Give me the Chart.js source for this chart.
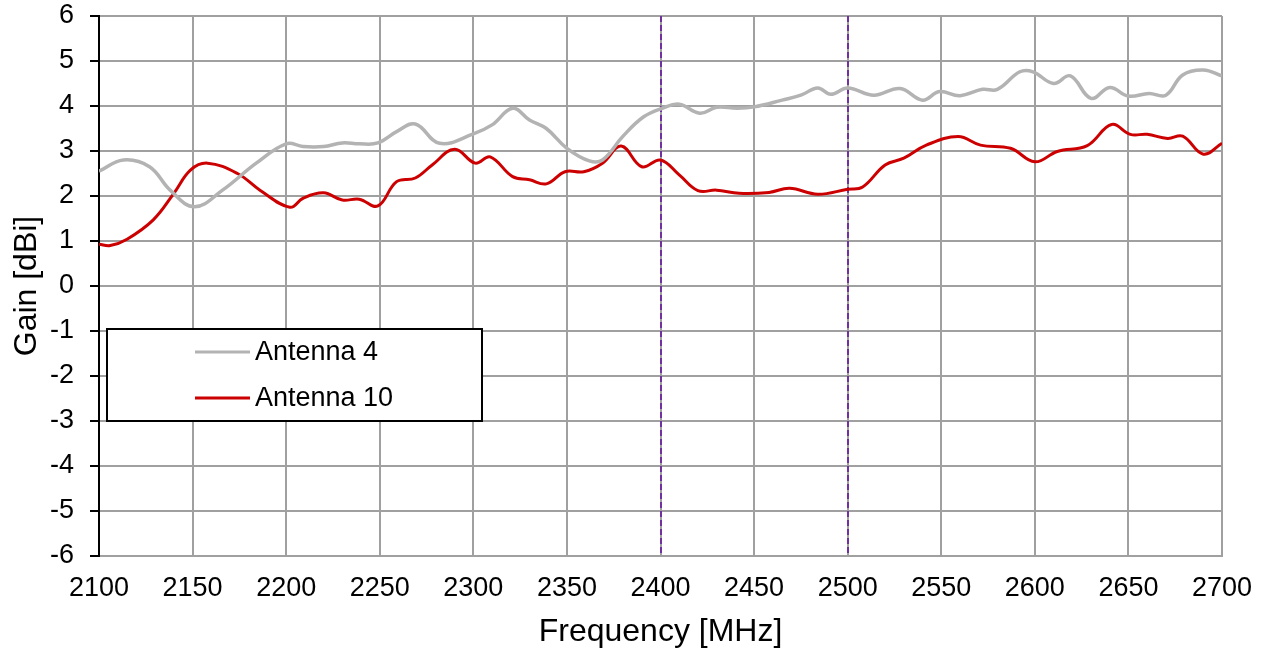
<!DOCTYPE html>
<html>
<head>
<meta charset="utf-8">
<title>Gain vs Frequency</title>
<script src="https://cdn.jsdelivr.net/npm/chart.js@4/dist/chart.umd.min.js"></script>
<style>
  html, body { margin: 0; padding: 0; background: #fff; }
</style>
</head>
<body>
<canvas id="grafico" width="1263" height="656"></canvas>
<script>
// Datos
const seriesNames = ['Antenna 4', 'Antenna 10'];
const freqA4 = [2100, 2113, 2127, 2138, 2151, 2166, 2184, 2200, 2209, 2220, 2230, 2239, 2249, 2259, 2269, 2282, 2300, 2310, 2321, 2330, 2339, 2350, 2362, 2369, 2380, 2391, 2401, 2410, 2421, 2430, 2441, 2450, 2465, 2475, 2484, 2491, 2500, 2514, 2528, 2540, 2549, 2560, 2572, 2580, 2592, 2599, 2610, 2619, 2630, 2640, 2650, 2661, 2670, 2679, 2690, 2700];
const gainA4 = [2.55, 2.8, 2.65, 2.13, 1.76, 2.13, 2.73, 3.16, 3.1, 3.1, 3.18, 3.16, 3.18, 3.43, 3.6, 3.17, 3.38, 3.58, 3.95, 3.69, 3.5, 3.06, 2.78, 2.8, 3.33, 3.76, 3.95, 4.04, 3.84, 3.97, 3.95, 3.98, 4.13, 4.24, 4.4, 4.26, 4.4, 4.24, 4.39, 4.13, 4.32, 4.23, 4.37, 4.37, 4.76, 4.76, 4.5, 4.67, 4.17, 4.41, 4.22, 4.28, 4.24, 4.69, 4.8, 4.67];
const freqA10 = [2100, 2106, 2115, 2129, 2140, 2149, 2158, 2174, 2186, 2202, 2209, 2220, 2230, 2239, 2249, 2259, 2269, 2278, 2290, 2301, 2309, 2321, 2330, 2339, 2349, 2359, 2369, 2379, 2390, 2400, 2410, 2420, 2430, 2442, 2458, 2469, 2484, 2500, 2508, 2520, 2530, 2542, 2559, 2571, 2587, 2600, 2612, 2628, 2641, 2651, 2660, 2671, 2679, 2690, 2700];
const gainA10 = [0.93, 0.9, 1.04, 1.47, 2.06, 2.58, 2.73, 2.5, 2.13, 1.75, 1.95, 2.07, 1.91, 1.93, 1.78, 2.32, 2.4, 2.69, 3.04, 2.73, 2.87, 2.43, 2.36, 2.27, 2.54, 2.54, 2.73, 3.11, 2.65, 2.8, 2.47, 2.12, 2.13, 2.06, 2.08, 2.17, 2.04, 2.15, 2.2, 2.69, 2.84, 3.13, 3.32, 3.13, 3.06, 2.76, 2.99, 3.12, 3.59, 3.37, 3.37, 3.28, 3.33, 2.93, 3.17];
const bandEdges = [2400, 2500]; // lineas verticales punteadas

const fuente = "'Liberation Sans', Arial, sans-serif";

function toPoints(xs, ys) {
    return xs.map((x, i) => ({ x: x, y: ys[i] }));
}

// Lineas verticales de la banda
const bandLines = {
    id: 'bandLines',
    beforeDatasetsDraw(chart) {
        const { ctx, chartArea, scales } = chart;
        ctx.save();
        ctx.strokeStyle = '#7030a0';
        ctx.lineWidth = 2;
        ctx.setLineDash([6, 3]);
        bandEdges.forEach(f => {
            const x = Math.round(scales.x.getPixelForValue(f));
            ctx.beginPath();
            ctx.moveTo(x, chartArea.top);
            ctx.lineTo(x, chartArea.bottom);
            ctx.stroke();
        });
        ctx.restore();
    }
};

// Leyenda dentro del area del grafico
const boxLegend = {
    id: 'boxLegend',
    afterDatasetsDraw(chart) {
        const { ctx, chartArea } = chart;
        const left = chartArea.left + 8;
        const top = chartArea.top + 313;
        ctx.save();
        ctx.fillStyle = '#fff';
        ctx.fillRect(left, top, 375, 92);
        ctx.strokeStyle = '#000';
        ctx.lineWidth = 2;
        ctx.strokeRect(left, top, 375, 92);
        ctx.font = '27px ' + fuente;
        ctx.textBaseline = 'middle';
        ctx.textAlign = 'left';
        chart.data.datasets.forEach((ds, i) => {
            const y = top + 23 + i * 46;
            ctx.strokeStyle = ds.borderColor;
            ctx.lineWidth = 3;
            ctx.beginPath();
            ctx.moveTo(left + 88, y);
            ctx.lineTo(left + 143, y);
            ctx.stroke();
            ctx.fillStyle = '#000';
            ctx.fillText(ds.label, left + 148, y + 1);
        });
        ctx.restore();
    }
};

new Chart(document.getElementById('grafico').getContext('2d'), {
    type: 'line',
    data: {
        datasets: [{
            label: seriesNames[0],
            data: toPoints(freqA4, gainA4),
            borderColor: '#b3b3b3',
            borderWidth: 3.5,
            pointRadius: 0,
            tension: 0.4,
            fill: false
        }, {
            label: seriesNames[1],
            data: toPoints(freqA10, gainA10),
            borderColor: '#cc0000',
            borderWidth: 3,
            pointRadius: 0,
            tension: 0.4,
            fill: false
        }]
    },
    options: {
        responsive: false,
        animation: false,
        layout: { padding: { top: 16, right: 41, left: 0, bottom: 0 } },
        plugins: {
            legend: { display: false },
            tooltip: { enabled: false }
        },
        scales: {
            x: {
                type: 'linear',
                min: 2100,
                max: 2700,
                afterFit: s => { s.height = 100; s.paddingLeft = 0; s.paddingRight = 0; },
                ticks: {
                    stepSize: 50,
                    color: '#000',
                    padding: 16,
                    maxRotation: 0,
                    font: { family: fuente, size: 27 },
                    callback: v => String(v)
                },
                grid: { color: '#a0a0a0', lineWidth: 2, drawTicks: false },
                border: { color: '#a0a0a0', width: 2 },
                title: {
                    display: true,
                    text: 'Frequency [MHz]',
                    color: '#000',
                    font: { family: fuente, size: 32 },
                    padding: { top: 0, bottom: 5 }
                }
            },
            y: {
                min: -6,
                max: 6,
                afterFit: s => { s.width = 99; s.paddingTop = 0; s.paddingBottom = 0; },
                ticks: {
                    stepSize: 1,
                    color: '#000',
                    padding: 16,
                    font: { family: fuente, size: 27 }
                },
                grid: { color: '#a0a0a0', lineWidth: 2, tickLength: 9, tickColor: '#000' },
                border: { color: '#000', width: 2 },
                title: {
                    display: true,
                    text: 'Gain [dBi]',
                    color: '#000',
                    font: { family: fuente, size: 32 },
                    padding: { top: 8, bottom: 0 }
                }
            }
        }
    },
    plugins: [bandLines, boxLegend]
});
</script>
</body>
</html>
